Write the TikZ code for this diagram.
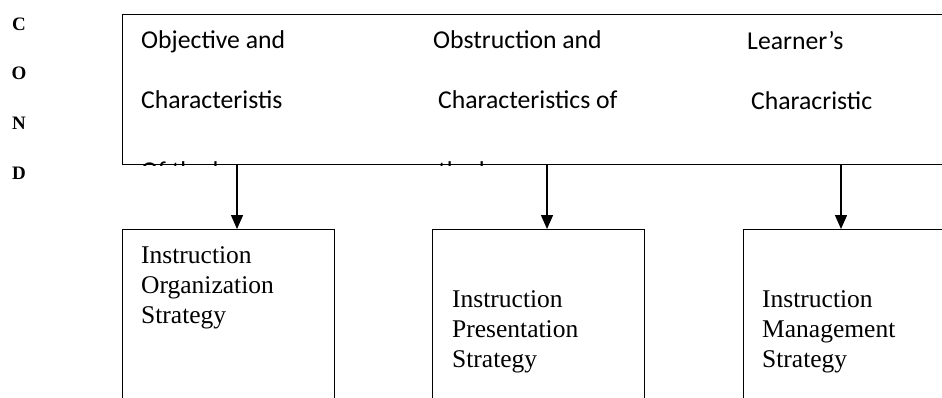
\documentclass[tikz,border=0pt]{standalone}
\usepackage{fontspec}
\setmainfont{Liberation Serif}
\newfontfamily\calibrifont{Carlito}
\usetikzlibrary{arrows.meta}

\begin{document}
\begin{tikzpicture}[x=1pt, y=-1pt,
    box/.style={draw, line width=1.4pt, inner sep=0pt, anchor=north west},
    toptext/.style={anchor=north west, inner sep=0pt, align=left,
      font=\calibrifont\fontsize{25.7}{60}\selectfont},
    strattext/.style={anchor=north west, inner sep=0pt, align=left,
      font=\fontsize{25.5}{30}\selectfont},
    condtext/.style={inner sep=0pt, font=\bfseries\fontsize{19}{19}\selectfont},
    flow/.style={line width=1.4pt, -{Triangle[length=14pt, width=12pt]}}]

      \useasboundingbox (0,0) rectangle (942,397);
      \clip (0,0) rectangle (942,397);

      % C O N D down the left side
      \node[condtext] (c) at (19,24) {C};
      \node[condtext] (o) at (19,73) {O};
      \node[condtext] (n) at (19,123) {N};
      \node[condtext] (d) at (19,173) {D};

      % conditions box
      \node[box, minimum width=860pt, minimum height=150pt] (cond) at (122,14) {};
      \begin{scope}
        \clip (cond.north west) rectangle (cond.south east);
        \node[toptext] (obj) at (141,30) {Objective and\\Characteristis\\[11pt]Of the lesson};
        \node[toptext] (obs) at (433,30) {Obstruction and\\\hspace{5pt}Characteristics of\\[11pt]\hspace{5pt}the lesson};
        \node[toptext] (lrn) at (747,31) {Learner’s\\\hspace{4pt}Characristic};
      \end{scope}

      % strategy boxes
      \node[box, minimum width=212pt, minimum height=200pt] (org) at (122,229) {};
      \node[box, minimum width=212pt, minimum height=200pt] (pres) at (432,229) {};
      \node[box, minimum width=212pt, minimum height=200pt] (mgmt) at (743,229) {};

      \node[strattext] (orgtext) at (141,246) {Instruction\\Organization\\Strategy};
      \node[strattext] (prestext) at (452,290) {Instruction\\Presentation\\Strategy};
      \node[strattext] (mgmttext) at (762,290) {Instruction\\Management\\Strategy};

      % arrows
      \coordinate (a1) at (237,164);
      \coordinate (a2) at (547,164);
      \coordinate (a3) at (841,164);
      \draw[flow] (a1) -- (a1 |- org.north);
      \draw[flow] (a2) -- (a2 |- pres.north);
      \draw[flow] (a3) -- (a3 |- mgmt.north);

\end{tikzpicture}
\end{document}
